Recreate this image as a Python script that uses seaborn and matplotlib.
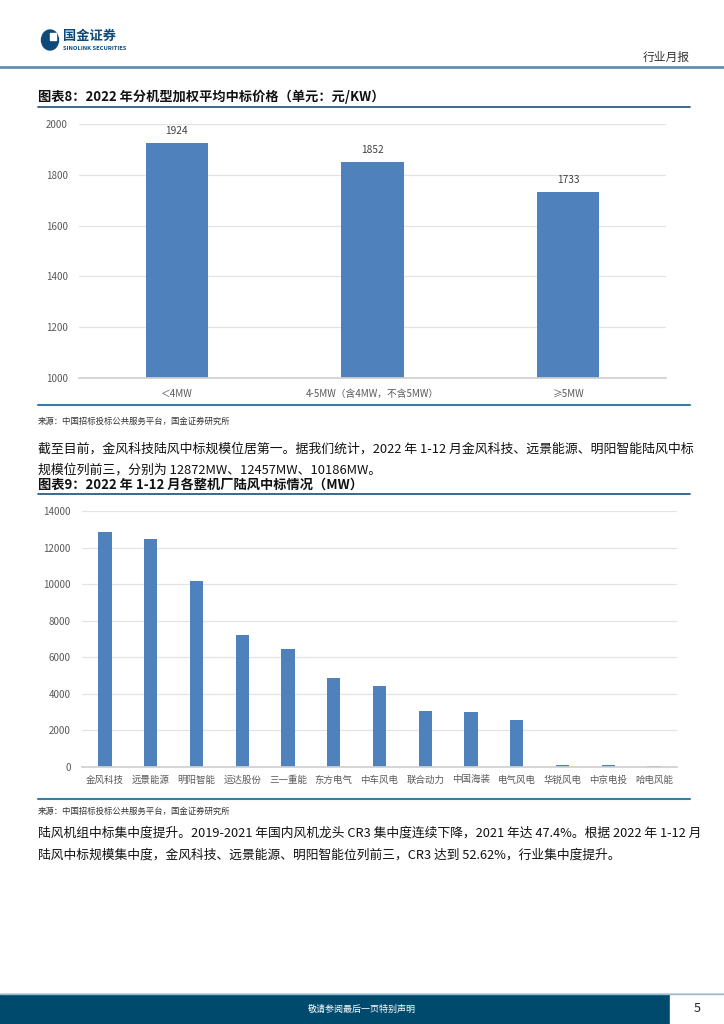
"""Recreate report page with two bar charts (wind turbine bids 2022)."""

import matplotlib.pyplot as plt
import matplotlib.patches as mpatches
import pandas as pd
import seaborn as sns

W, H = 724, 1024

# chart 8: weighted average bid price by turbine class
price_cats = ["＜4MW", "4-5MW（含4MW，不含5MW）", "≥5MW"]
price_vals = [1924, 1852, 1733]

# chart 9: onshore bid capacity by maker (MW)
maker_cats = ["金风科技", "远景能源", "明阳智能", "运达股份", "三一重能", "东方电气", "中车风电",
              "联合动力", "中国海装", "电气风电", "华锐风电", "中京电投", "哈电风能"]
maker_vals = [12872, 12457, 10186, 7230, 6430, 4850, 4420, 3080, 3020, 2590, 100, 100, 50]

BAR = "#4F81BD"
NAVY = "#1F4E79"
LINE = "#3A7CA5"
GRID = "#E3E3E3"
TXT = "#595959"

sns.set_theme(style="white")
plt.rcParams["font.family"] = ["Noto Sans CJK SC", "DejaVu Sans"]


def px_axes(fig, x0, y0, x1, y1):
    """Axes from pixel box (top-left origin)."""
    return fig.add_axes([x0 / W, 1 - y1 / H, (x1 - x0) / W, (y1 - y0) / H])


def hline(fig, y, x0, x1, color, lw):
    fig.add_artist(plt.Line2D([x0 / W, x1 / W], [1 - y / H, 1 - y / H], color=color, lw=lw))


def ftext(fig, x, y, s, **kw):
    fig.text(x / W, 1 - y / H, s, **kw)


def style_bar_axes(ax, ymin, ymax, step, fs):
    ax.set_ylim(ymin, ymax)
    ax.set_yticks(range(ymin, ymax + 1, step))
    ax.yaxis.grid(True, color=GRID, lw=0.9)
    ax.set_axisbelow(True)
    for side in ["top", "right", "left"]:
        ax.spines[side].set_visible(False)
    ax.spines["bottom"].set_color("#D0D0D0")
    ax.tick_params(axis="y", length=0, labelsize=fs, labelcolor=TXT, pad=8)
    ax.set_xlabel("")
    ax.set_ylabel("")


fig = plt.figure(figsize=(W / 100, H / 100), dpi=100)

# ---- header ----
fig.add_artist(mpatches.Ellipse((50 / W, 1 - 40 / H), 17 / W, 20 / H, color="#0B4A7A"))
fig.add_artist(mpatches.Rectangle((50 / W, 1 - 40 / H), 6 / W, 7 / H, color="white"))
ftext(fig, 63, 36, "国金证券", fontsize=9.5, fontweight="bold", color="#0B4A7A", va="center")
ftext(fig, 63, 48, "SINOLINK SECURITIES", fontsize=4.2, fontweight="bold", color="#0B4A7A", va="center")
ftext(fig, 690, 57, "行业月报", fontsize=8.5, color="#333333", ha="right", va="center")
hline(fig, 67, 0, W, "#5F8FB4", 2.0)

# ---- chart 8 ----
ftext(fig, 38, 97, "图表8：2022 年分机型加权平均中标价格（单元：元/KW）", fontsize=9.5,
      fontweight="bold", fontstyle="italic", color="#111111", va="center")
hline(fig, 107, 38, 690, NAVY, 1.2)

df1 = pd.DataFrame({"cat": price_cats, "val": price_vals})
ax1 = px_axes(fig, 79, 124, 666, 378)
sns.barplot(data=df1, x="cat", y="val", color=BAR, width=0.32, saturation=1, linewidth=0, ax=ax1)
style_bar_axes(ax1, 1000, 2000, 200, 7)
ax1.tick_params(axis="x", length=0, labelsize=7, labelcolor=TXT, pad=8)
for cont in ax1.containers:
    ax1.bar_label(cont, labels=[str(v) for v in price_vals], padding=5, fontsize=7.3, color="#404040")

hline(fig, 405, 38, 690, LINE, 1.5)
ftext(fig, 38, 421, "来源：中国招标投标公共服务平台，国金证券研究所", fontsize=6, color="#333333", va="center")

ftext(fig, 38, 449, "截至目前，金风科技陆风中标规模位居第一。据我们统计，2022 年 1-12 月金风科技、远景能源、明阳智能陆风中标",
      fontsize=9.3, color="#111111", va="center")
ftext(fig, 38, 470, "规模位列前三，分别为 12872MW、12457MW、10186MW。", fontsize=9.3, color="#111111", va="center")

# ---- chart 9 ----
ftext(fig, 38, 485, "图表9：2022 年 1-12 月各整机厂陆风中标情况（MW）", fontsize=9.5,
      fontweight="bold", fontstyle="italic", color="#111111", va="center")
hline(fig, 494, 38, 690, NAVY, 1.2)

df2 = pd.DataFrame({"cat": maker_cats, "val": maker_vals})
ax2 = px_axes(fig, 82, 511, 677, 767)
sns.barplot(data=df2, x="cat", y="val", color=BAR, width=0.29, saturation=1, linewidth=0, ax=ax2)
style_bar_axes(ax2, 0, 14000, 2000, 7)
ax2.tick_params(axis="x", length=0, labelsize=6.8, labelcolor=TXT, pad=6)
ax2.set_xticks([i - 0.5 for i in range(len(maker_cats) + 1)], minor=True)
ax2.tick_params(axis="x", which="minor", length=4, color="#D0D0D0", direction="out")

hline(fig, 799, 38, 690, LINE, 1.5)
ftext(fig, 38, 811, "来源：中国招标投标公共服务平台，国金证券研究所", fontsize=6, color="#333333", va="center")

ftext(fig, 38, 833, "陆风机组中标集中度提升。2019-2021 年国内风机龙头 CR3 集中度连续下降，2021 年达 47.4%。根据 2022 年 1-12 月",
      fontsize=9.2, color="#111111", va="center")
ftext(fig, 38, 855, "陆风中标规模集中度，金风科技、远景能源、明阳智能位列前三，CR3 达到 52.62%，行业集中度提升。",
      fontsize=9.2, color="#111111", va="center")

# ---- footer ----
fig.add_artist(mpatches.Rectangle((0, 0), 1, 30 / H, color="#004A6E"))
hline(fig, 994, 0, W, "#9DBBD0", 1.0)
fig.add_artist(mpatches.Rectangle((670 / W, 0), 54 / W, 29 / H, color="white"))
ftext(fig, 362, 1009, "敬请参阅最后一页特别声明", fontsize=6.5, color="white", ha="center", va="center")
ftext(fig, 697, 1009, "5", fontsize=9, color="#222222", ha="center", va="center")

fig.savefig("out.png", dpi=100)
